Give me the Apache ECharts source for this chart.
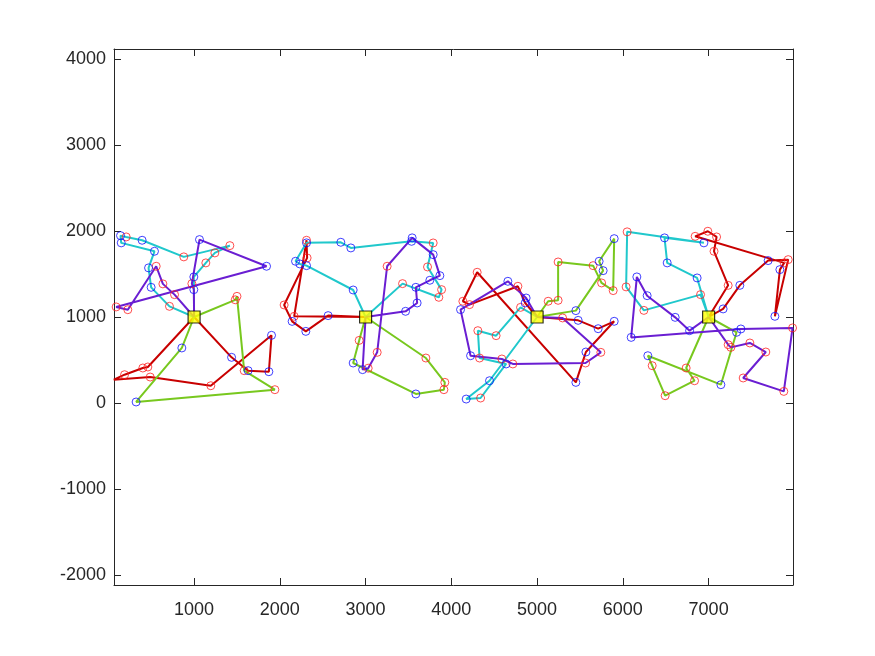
<!DOCTYPE html>
<html><head><meta charset="utf-8">
<script src="https://cdn.jsdelivr.net/npm/echarts@6/dist/echarts.min.js"></script>
<style>html,body{margin:0;padding:0;background:#fff}#c{width:875px;height:656px}</style>
</head><body><div id="c"></div>
<script>
// Depot locations
const depots = [[1000,1000],[3000,1000],[5000,1000],[7000,1000]];
// Route customers: [x, y, kind]  kind 'r' = red circle, 'b' = blue circle
const red1 = [[1437,531,'b'],[1630,376,'b'],[1872,364,'b'],[1903,787,'b'],[1195,201,'r'],[488,302,'r'],[64,271,'r'],[189,329,'r'],[402,407,'r'],[461,419,'r']];
const green1 = [[1480,1200,'r'],[1500,1240,'r'],[1584,376,'r'],[1942,155,'r'],[324,12,'b'],[857,640,'b']];
const cyan1 = [[997,1466,'b'],[1137,1629,'r'],[1242,1745,'r'],[1417,1830,'r'],[880,1699,'r'],[394,1892,'b'],[208,1931,'r'],[142,1946,'b'],[150,1862,'b'],[538,1764,'b'],[469,1571,'b'],[499,1345,'b'],[713,1124,'r']];
const purple1 = [[997,1318,'b'],[974,1388,'r'],[1063,1900,'b'],[1845,1590,'b'],[91,1117,'r'],[227,1085,'r'],[558,1590,'r'],[636,1385,'r'],[772,1260,'r']];

const red2 = [[2167,1008,'r'],[2311,1892,'r'],[2318,1687,'r'],[2050,1140,'r'],[2143,949,'b'],[2303,833,'b'],[2563,1016,'b']];
const green2 = [[3703,523,'r'],[3924,240,'r'],[3913,155,'r'],[3586,105,'b'],[2855,465,'b'],[2925,728,'r']];
const cyan2 = [[2855,1314,'b'],[2311,1597,'b'],[2233,1617,'b'],[2183,1648,'b'],[2311,1862,'b'],[2711,1869,'b'],[2828,1803,'b'],[3536,1880,'b'],[3788,1861,'r'],[3722,1582,'r'],[3886,1318,'r'],[3854,1229,'r'],[3431,1388,'r']];
const purple2 = [[2965,388,'b'],[3030,405,'r'],[3135,589,'r'],[3251,1590,'r'],[3543,1920,'b'],[3788,1725,'b'],[3866,1481,'b'],[3749,1427,'b'],[3586,1345,'b'],[3601,1163,'b'],[3466,1066,'b']];

const red3 = [[5479,961,'b'],[5712,864,'b'],[5899,950,'b'],[5569,593,'b'],[5452,240,'b'],[4301,1520,'r'],[4134,1183,'r'],[4212,1144,'r'],[4776,1357,'r'],[4861,1163,'b']];
const green3 = [[5129,1183,'r'],[5245,1194,'r'],[5245,1640,'r'],[5653,1597,'r'],[5752,1396,'r'],[5887,1307,'r'],[5899,1911,'b'],[5723,1648,'b'],[5770,1539,'b'],[5452,1074,'b']];
const cyan3 = [[4445,259,'b'],[4173,46,'b'],[4341,58,'r'],[4639,454,'b'],[4329,523,'r'],[4309,841,'r'],[4522,783,'r'],[4807,1112,'r']];
const purple3 = [[5297,989,'r'],[5743,589,'r'],[5565,465,'r'],[4717,454,'r'],[4589,512,'r'],[4224,550,'b'],[4107,1086,'b'],[4659,1415,'b'],[4872,1221,'b']];

const red4 = [[7169,1094,'b'],[7364,1368,'b'],[7694,1656,'b'],[7928,1667,'r'],[7773,1008,'b'],[7831,1551,'b'],[7881,1629,'r'],[6843,1938,'r'],[6991,1997,'r'],[7093,1931,'r'],[7063,1764,'r'],[7228,1368,'r']];
const green4 = [[6738,407,'r'],[6836,259,'r'],[6493,85,'r'],[6342,434,'r'],[6291,550,'b'],[7143,213,'b'],[7326,822,'b']];
const cyan4 = [[6866,1454,'b'],[6517,1629,'b'],[6486,1920,'b'],[6945,1862,'b'],[6050,1990,'r'],[6038,1350,'r'],[6245,1077,'r'],[6906,1260,'r']];
const purple4 = [[7228,678,'r'],[7259,647,'r'],[7481,698,'r'],[7667,593,'r'],[7403,291,'r'],[7877,135,'r'],[7979,873,'r'],[7376,861,'b'],[6097,763,'b'],[6163,1466,'b'],[6283,1248,'b'],[6610,996,'b'],[6778,841,'b']];

const xTickValues = [1000,2000,3000,4000,5000,6000,7000];
const yTickValues = [-2000,-1000,0,1000,2000,3000,4000];
const xRange = [66, 7984];
const yRange = [-2116, 4116];

const COLORS = {red:'#C80000', green:'#78C81E', cyan:'#20C8CC', purple:'#6A1ED2'};
const routeDefs = [
  [0,'red',red1],[0,'green',green1],[0,'cyan',cyan1],[0,'purple',purple1],
  [1,'red',red2],[1,'green',green2],[1,'cyan',cyan2],[1,'purple',purple2],
  [2,'red',red3],[2,'green',green3],[2,'cyan',cyan3],[2,'purple',purple3],
  [3,'red',red4],[3,'green',green4],[3,'cyan',cyan4],[3,'purple',purple4]
];

const series = [];
const redNodes = [], blueNodes = [];
routeDefs.forEach(([d, col, pts]) => {
  const path = [depots[d]].concat(pts.map(p => [p[0], p[1]])).concat([depots[d]]);
  series.push({type:'line', data:path, symbol:'none', silent:true,
    lineStyle:{color:COLORS[col], width:2}, z:2});
  pts.forEach(p => (p[2]==='r' ? redNodes : blueNodes).push([p[0], p[1]]));
});
series.push({type:'scatter', data:redNodes, symbol:'circle', symbolSize:8, z:3,
  itemStyle:{color:'rgba(0,0,0,0)', borderColor:'#FF2020', borderWidth:1}});
series.push({type:'scatter', data:blueNodes, symbol:'circle', symbolSize:8, z:3,
  itemStyle:{color:'rgba(0,0,0,0)', borderColor:'#1010FF', borderWidth:1}});
series.push({type:'scatter', data:depots, symbol:'rect', symbolSize:12, z:4,
  itemStyle:{color:'#FFFF00', borderColor:'#000000', borderWidth:1.2}});

const axisLine = {show:true, onZero:false, lineStyle:{color:'#262626', width:1}};
const tickStyle = (vals) => ({show:true, inside:true, length:7, customValues:vals, lineStyle:{color:'#262626', width:1}});
const labelStyle = (vals, margin) => ({show:true, customValues:vals, color:'#262626', fontSize:18,
  fontFamily:'Liberation Sans, Arial, sans-serif', margin:margin, formatter:(v) => String(v)});

const option = {
  animation:false,
  backgroundColor:'#ffffff',
  grid:{left:114, top:49, width:679, height:536, containLabel:false},
  xAxis:[
    {type:'value', min:xRange[0], max:xRange[1], position:'bottom', axisLine:axisLine, axisTick:tickStyle(xTickValues), axisLabel:labelStyle(xTickValues,16), splitLine:{show:false}},
    {type:'value', min:xRange[0], max:xRange[1], position:'top', axisLine:axisLine, axisTick:tickStyle(xTickValues), axisLabel:{show:false}, splitLine:{show:false}}
  ],
  yAxis:[
    {type:'value', min:yRange[0], max:yRange[1], position:'left', axisLine:axisLine, axisTick:tickStyle(yTickValues), axisLabel:labelStyle(yTickValues,8), splitLine:{show:false}},
    {type:'value', min:yRange[0], max:yRange[1], position:'right', axisLine:axisLine, axisTick:tickStyle(yTickValues), axisLabel:{show:false}, splitLine:{show:false}}
  ],
  series:series
};
const chart = echarts.init(document.getElementById('c'), null, {renderer:'canvas'});
chart.setOption(option);
</script></body></html>
